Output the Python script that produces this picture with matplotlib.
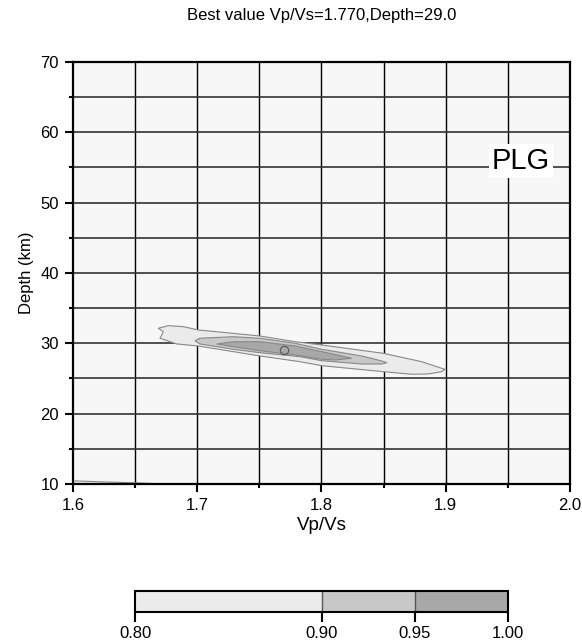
import numpy as np
import matplotlib
matplotlib.use("Agg")
import matplotlib.pyplot as plt
from matplotlib.colors import ListedColormap, BoundaryNorm
from matplotlib.colorbar import ColorbarBase

plt.rcParams['font.family'] = ['Liberation Sans', 'DejaVu Sans']

# stack amplitude levels and fill shades
levels = [0.80, 0.90, 0.95, 1.00]
shades = ['#ebebeb', '#c8c8c8', '#a8a8a8']

# contour outlines (Vp/Vs, depth in km), one closed ring per level
k_080 = [1.6687, 1.6767, 1.6888, 1.7008, 1.7505, 1.7787, 1.8002, 1.8497, 1.8806, 1.8967, 1.8994,
         1.8967, 1.8860, 1.8726, 1.8497, 1.8002, 1.7827, 1.7505, 1.7008, 1.6835, 1.6700, 1.6727]
h_080 = [32.14, 32.51, 32.37, 31.90, 31.04, 30.23, 29.76, 28.58, 27.39, 26.45, 26.31,
         25.97, 25.64, 25.60, 25.97, 26.82, 27.39, 28.20, 29.62, 29.91, 30.72, 31.65]

k_090 = [1.6982, 1.7022, 1.7290, 1.7505, 1.7787, 1.8002, 1.8324, 1.8485, 1.8525,
         1.8485, 1.8324, 1.8002, 1.7827, 1.7505, 1.7290, 1.7022]
h_090 = [30.37, 30.72, 30.94, 30.72, 30.01, 29.15, 28.20, 27.49, 27.25,
         27.06, 27.06, 27.53, 28.10, 28.67, 29.15, 29.91]

k_095 = [1.7157, 1.7290, 1.7505, 1.7787, 1.8002, 1.8243,
         1.8109, 1.8002, 1.7787, 1.7505, 1.7290]
h_095 = [29.91, 30.23, 30.23, 29.62, 28.81, 27.87,
         27.63, 27.73, 28.34, 28.95, 29.52]

# small patch at the lower edge of the grid
k_edge = [1.600, 1.600, 1.625, 1.660, 1.670]
h_edge = [10.00, 10.45, 10.30, 10.10, 10.00]

best_k = 1.770
best_h = 29.0
station = "PLG"

fig = plt.figure(figsize=(5.82, 6.43), dpi=100)
ax = fig.add_axes([0.1254, 0.2473, 0.854, 0.6563])
ax.set_facecolor('#f7f7f7')

# grid
for x in np.arange(1.65, 2.0, 0.05):
    ax.axvline(x, color='black', lw=1.0, zorder=1)
for y in np.arange(15, 70, 5):
    ax.axhline(y, color='#333333', lw=1.2, zorder=1)

rings = [(k_080, h_080, shades[0]), (k_090, h_090, shades[1]), (k_095, h_095, shades[2]),
         (k_edge, h_edge, shades[0])]
for k, h, c in rings:
    ax.fill(k, h, facecolor=c, edgecolor='#888888', lw=0.8, zorder=2)

ax.plot(best_k, best_h, 'o', ms=6, mfc='none', mec='#555555', mew=0.8, zorder=3)

ax.text(1.9606, 55.9, station, fontsize=21, ha='center', va='center', zorder=4,
        bbox=dict(facecolor='white', edgecolor='none', pad=2))

ax.set_xlim(1.6, 2.0)
ax.set_ylim(10, 70)
ax.set_xticks(np.arange(1.6, 2.01, 0.1))
ax.set_xticklabels(['1.6', '1.7', '1.8', '1.9', '2.0'])
ax.set_xticks(np.arange(1.65, 2.0, 0.1), minor=True)
ax.set_yticks(np.arange(10, 71, 10))
ax.set_yticks(np.arange(15, 70, 10), minor=True)
ax.tick_params(which='major', direction='out', length=6, width=1.5, labelsize=12, pad=4)
ax.tick_params(which='minor', direction='out', length=3, width=1.5)
for s in ax.spines.values():
    s.set_linewidth(1.6)
    s.set_zorder(5)

ax.set_xlabel('Vp/Vs', fontsize=13.5, labelpad=3)
ax.set_ylabel('Depth (km)', fontsize=12, labelpad=5)
ax.set_title('Best value Vp/Vs=%.3f,Depth=%.1f' % (best_k, best_h), fontsize=12, pad=30)

# colour scale
cax = fig.add_axes([0.232, 0.0482, 0.641, 0.0327])
cmap = ListedColormap(shades)
norm = BoundaryNorm(levels, cmap.N)
cb = ColorbarBase(cax, cmap=cmap, norm=norm, boundaries=levels, spacing='proportional',
                  orientation='horizontal', ticks=levels, format='%.2f', drawedges=True)
cb.outline.set_linewidth(1.5)
cb.dividers.set_color('#555555')
cb.dividers.set_linewidth(1.0)
cax.tick_params(direction='out', length=7, width=1.5, labelsize=12, pad=3)

fig.savefig('out.png', dpi=100)
